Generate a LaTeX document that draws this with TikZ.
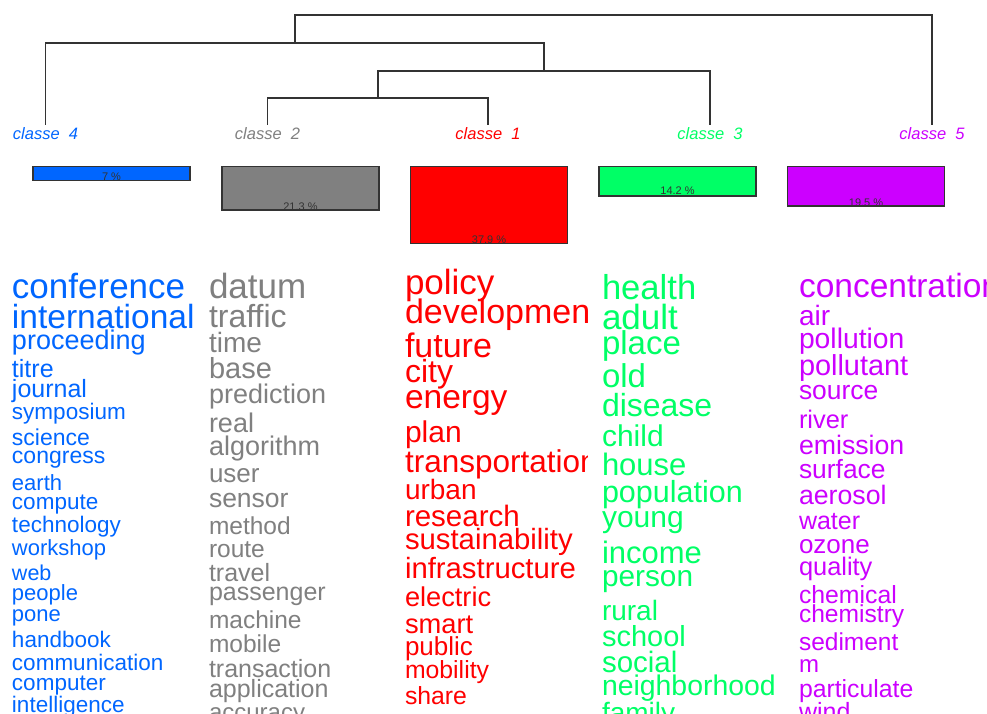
\documentclass[tikz,border=0pt]{standalone}
\usepackage{fontspec}
\setmainfont{Liberation Sans}
\newcommand\fsz[1]{\fontsize{#1}{#1}\selectfont}
\definecolor{cred}{HTML}{FF0000}
\definecolor{cgray}{HTML}{808080}
\definecolor{cgreen}{HTML}{00FF66}
\definecolor{cblue}{HTML}{0066FF}
\definecolor{cpurple}{HTML}{CC00FF}
\definecolor{dline}{HTML}{333333}
\begin{document}
\begin{tikzpicture}[x=1pt,y=-1pt,
  word/.style={anchor=base west, inner sep=0pt, outer sep=0pt},
  cls/.style={anchor=base, inner xsep=0pt, inner ysep=2.6pt, outer sep=0pt, font=\fsz{16.5}\itshape},
  dend/.style={draw=dline, line width=1.3pt},
  barbox/.style={anchor=north west, draw=dline, line width=1.2pt, inner sep=0pt, outer sep=0pt, minimum width=157pt},
  pct/.style={anchor=base, inner sep=0pt, font=\fsz{11}, text=black!80}]
\useasboundingbox (0,0) rectangle (987,713);
\fill[white] (0,0) rectangle (987,713);

% class labels
\node[cls, text=cblue]   (c4) at (45.5,139.3) {classe\ \ 4};
\node[cls, text=cgray]   (c2) at (267.5,139.3) {classe\ \ 2};
\node[cls, text=cred]    (c1) at (488,139.3) {classe\ \ 1};
\node[cls, text=cgreen]  (c3) at (710,139.3) {classe\ \ 3};
\node[cls, text=cpurple] (c5) at (932,139.3) {classe\ \ 5};

% dendrogram
\coordinate (a21) at (378,98);
\coordinate (a213) at (544,71);
\coordinate (a4213) at (295,43);
\coordinate (root) at (613.5,15);
\draw[dend] (c2.north) |- (a21) -| (c1.north);
\draw[dend] (a21) |- (a213) -| (c3.north);
\draw[dend] (c4.north) |- (a4213) -| (a213);
\draw[dend] (a4213) |- (root) -| (c5.north);

% bars
\node[barbox, fill=cblue,   minimum height=14.3pt] (b4) at (33,166.5) {};
\node[barbox, fill=cgray,   minimum height=43.5pt] (b2) at (222,166.5) {};
\node[barbox, fill=cred,    minimum height=77pt]   (b1) at (410.5,166.5) {};
\node[barbox, fill=cgreen,  minimum height=29.5pt] (b3) at (599,166.5) {};
\node[barbox, fill=cpurple, minimum height=39.5pt] (b5) at (787.5,166.5) {};
\node[pct] (p4) at (b4.south) {7 \%};
\node[pct] (p2) at (b2.south) {21.3 \%};
\node[pct] (p1) at (b1.south) {37.9 \%};
\node[pct] (p3) at ([yshift=1.5pt]b3.south) {14.2 \%};
\node[pct] (p5) at (b5.south) {19.5 \%};

% column classe 4
\begin{scope}[text=cblue]
\clip (0,255) rectangle (193.5,713);
\node[word,font=\fsz{35}] (w4a) at (12,298) {conference};
\node[word,font=\fsz{33.5}] (w4b) at (12,328) {international};
\node[word,font=\fsz{27}] (w4c) at (12,349) {proceeding};
\node[word,font=\fsz{25}] (w4d) at (12,377) {titre};
\node[word,font=\fsz{25}] (w4e) at (12,397) {journal};
\node[word,font=\fsz{22.5}] (w4f) at (12,419) {symposium};
\node[word,font=\fsz{23}] (w4g) at (12,445) {science};
\node[word,font=\fsz{23}] (w4h) at (12,463) {congress};
\node[word,font=\fsz{22}] (w4i) at (12,490) {earth};
\node[word,font=\fsz{22.5}] (w4j) at (12,509) {compute};
\node[word,font=\fsz{22.5}] (w4k) at (12,532) {technology};
\node[word,font=\fsz{22}] (w4l) at (12,555) {workshop};
\node[word,font=\fsz{21.5}] (w4m) at (12,580) {web};
\node[word,font=\fsz{22}] (w4n) at (12,600) {people};
\node[word,font=\fsz{22}] (w4o) at (12,621) {pone};
\node[word,font=\fsz{22.5}] (w4p) at (12,647) {handbook};
\node[word,font=\fsz{22.5}] (w4q) at (12,670) {communication};
\node[word,font=\fsz{22.5}] (w4r) at (12,690) {computer};
\node[word,font=\fsz{22.5}] (w4s) at (12,712) {intelligence};
\end{scope}

% column classe 2
\begin{scope}[text=cgray]
\clip (197,255) rectangle (391,713);
\node[word,font=\fsz{35}] (w2a) at (209,298) {datum};
\node[word,font=\fsz{32}] (w2b) at (209,327) {traffic};
\node[word,font=\fsz{28}] (w2c) at (209,352) {time};
\node[word,font=\fsz{29}] (w2d) at (209,378) {base};
\node[word,font=\fsz{27}] (w2e) at (209,403) {prediction};
\node[word,font=\fsz{27}] (w2f) at (209,432) {real};
\node[word,font=\fsz{27}] (w2g) at (209,455) {algorithm};
\node[word,font=\fsz{26}] (w2h) at (209,482) {user};
\node[word,font=\fsz{26.5}] (w2i) at (209,507) {sensor};
\node[word,font=\fsz{24.5}] (w2j) at (209,534) {method};
\node[word,font=\fsz{24.5}] (w2k) at (209,557) {route};
\node[word,font=\fsz{25}] (w2l) at (209,581) {travel};
\node[word,font=\fsz{25}] (w2m) at (209,600) {passenger};
\node[word,font=\fsz{24.5}] (w2n) at (209,628) {machine};
\node[word,font=\fsz{24.5}] (w2o) at (209,652) {mobile};
\node[word,font=\fsz{25}] (w2p) at (209,677) {transaction};
\node[word,font=\fsz{25}] (w2q) at (209,697) {application};
\node[word,font=\fsz{24}] (w2r) at (209,720) {accuracy};
\end{scope}

% column classe 1
\begin{scope}[text=cred]
\clip (394,255) rectangle (587,713);
\node[word,font=\fsz{35}] (w1a) at (405,294) {policy};
\node[word,font=\fsz{34}] (w1b) at (405,323) {development};
\node[word,font=\fsz{34}] (w1c) at (405,357) {future};
\node[word,font=\fsz{32}] (w1d) at (405,382) {city};
\node[word,font=\fsz{33.5}] (w1e) at (405,408) {energy};
\node[word,font=\fsz{30}] (w1f) at (405,442) {plan};
\node[word,font=\fsz{31.5}] (w1g) at (405,472) {transportation};
\node[word,font=\fsz{28}] (w1h) at (405,499) {urban};
\node[word,font=\fsz{29.5}] (w1i) at (405,526) {research};
\node[word,font=\fsz{29.3}] (w1j) at (405,549) {sustainability};
\node[word,font=\fsz{29.3}] (w1k) at (405,578) {infrastructure};
\node[word,font=\fsz{27.2}] (w1l) at (405,606) {electric};
\node[word,font=\fsz{27.3}] (w1m) at (405,633) {smart};
\node[word,font=\fsz{26}] (w1n) at (405,655) {public};
\node[word,font=\fsz{24.8}] (w1o) at (405,678) {mobility};
\node[word,font=\fsz{24.8}] (w1p) at (405,704) {share};
\end{scope}

% column classe 3
\begin{scope}[text=cgreen]
\clip (591,255) rectangle (785,713);
\node[word,font=\fsz{34.6}] (w3a) at (602,299) {health};
\node[word,font=\fsz{35}] (w3b) at (602,329) {adult};
\node[word,font=\fsz{33}] (w3c) at (602,354) {place};
\node[word,font=\fsz{33}] (w3d) at (602,387) {old};
\node[word,font=\fsz{32}] (w3e) at (602,416) {disease};
\node[word,font=\fsz{30}] (w3f) at (602,446) {child};
\node[word,font=\fsz{31}] (w3g) at (602,475) {house};
\node[word,font=\fsz{30.5}] (w3h) at (602,502) {population};
\node[word,font=\fsz{30}] (w3i) at (602,527) {young};
\node[word,font=\fsz{31}] (w3j) at (602,563) {income};
\node[word,font=\fsz{29.8}] (w3k) at (602,586) {person};
\node[word,font=\fsz{28}] (w3l) at (602,620) {rural};
\node[word,font=\fsz{29}] (w3m) at (602,646) {school};
\node[word,font=\fsz{29.5}] (w3n) at (602,672) {social};
\node[word,font=\fsz{28.4}] (w3o) at (602,695) {neighborhood};
\node[word,font=\fsz{28}] (w3p) at (602,722) {family};
\end{scope}

% column classe 5
\begin{scope}[text=cpurple]
\clip (788,255) rectangle (987,713);
\node[word,font=\fsz{33.5}] (w5a) at (799,297) {concentration};
\node[word,font=\fsz{28}] (w5b) at (799,325) {air};
\node[word,font=\fsz{28.3}] (w5c) at (799,348) {pollution};
\node[word,font=\fsz{28.9}] (w5d) at (799,375) {pollutant};
\node[word,font=\fsz{26.4}] (w5e) at (799,399) {source};
\node[word,font=\fsz{25.4}] (w5f) at (799,428) {river};
\node[word,font=\fsz{26.7}] (w5g) at (799,454) {emission};
\node[word,font=\fsz{26.4}] (w5h) at (799,478) {surface};
\node[word,font=\fsz{26.7}] (w5i) at (799,504) {aerosol};
\node[word,font=\fsz{25}] (w5j) at (799,529) {water};
\node[word,font=\fsz{26}] (w5k) at (799,553) {ozone};
\node[word,font=\fsz{25.4}] (w5l) at (799,575) {quality};
\node[word,font=\fsz{24.8}] (w5m) at (799,603) {chemical};
\node[word,font=\fsz{24.6}] (w5n) at (799,622) {chemistry};
\node[word,font=\fsz{24.5}] (w5o) at (799,650) {sediment};
\node[word,font=\fsz{24}] (w5p) at (799,672) {m};
\node[word,font=\fsz{24.8}] (w5q) at (799,697) {particulate};
\node[word,font=\fsz{25}] (w5r) at (799,720) {wind};
\end{scope}
\end{tikzpicture}
\end{document}
